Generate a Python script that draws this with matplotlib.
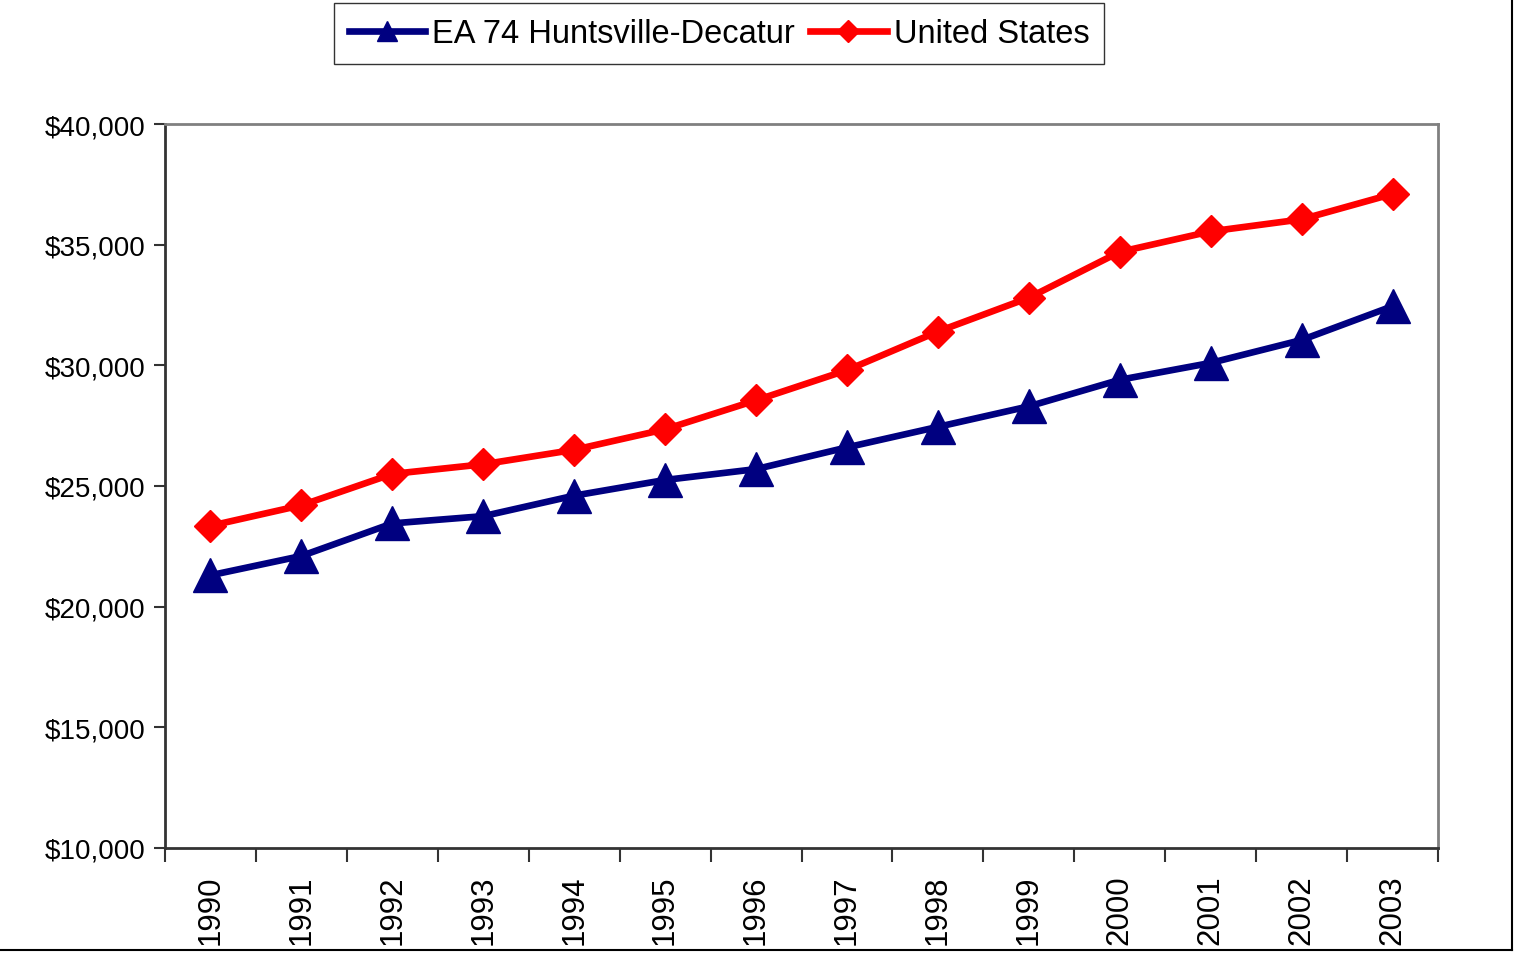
import matplotlib
matplotlib.use("Agg")
import matplotlib.pyplot as plt
from matplotlib.lines import Line2D
from matplotlib.ticker import FuncFormatter, FixedLocator

plt.rcParams['font.family'] = ['Liberation Sans', 'DejaVu Sans']

years = ["1990", "1991", "1992", "1993", "1994", "1995", "1996",
         "1997", "1998", "1999", "2000", "2001", "2002", "2003"]
huntsville = [21300, 22100, 23450, 23750, 24600, 25250, 25700,
              26600, 27450, 28300, 29400, 30100, 31050, 32450]
united_states = [23350, 24200, 25500, 25900, 26500, 27350, 28550,
                 29800, 31400, 32800, 34700, 35550, 36050, 37100]
y_ticks = [10000, 15000, 20000, 25000, 30000, 35000, 40000]

fig = plt.figure(figsize=(15.14, 9.54), dpi=100)
ax = fig.add_axes([165/1514, 1-849/954, (1438-165)/1514, (849-125)/954])

x = list(range(len(years)))
ax.plot(x, huntsville, color='#000080', lw=4.8, marker='^', ms=24,
        label='EA 74 Huntsville-Decatur', solid_joinstyle='round')
ax.plot(x, united_states, color='#FF0000', lw=4.8, marker='D', ms=16.5,
        label='United States', solid_joinstyle='round')

ax.set_xlim(-0.5, len(years) - 0.5)
ax.set_ylim(y_ticks[0], y_ticks[-1])
ax.set_yticks(y_ticks)
ax.yaxis.set_major_formatter(FuncFormatter(lambda v, p: "${:,.0f}".format(v)))
ax.tick_params(axis='y', direction='out', length=8, width=1.5, color='#333333',
               labelsize=20, pad=6)

ax.xaxis.set_major_locator(FixedLocator([i - 0.5 for i in range(len(years) + 1)]))
ax.xaxis.set_major_formatter(FuncFormatter(lambda v, p: ""))
ax.xaxis.set_minor_locator(FixedLocator(x))
ax.set_xticklabels(years, minor=True, rotation=90)
ax.tick_params(axis='x', which='major', direction='out', length=10, width=1.5,
               color='#333333')
ax.tick_params(axis='x', which='minor', length=0, labelsize=22.5, pad=19)
for lab in ax.get_xticklabels(minor=True):
    lab.set_verticalalignment('top')

ax.spines['left'].set_color('#333333')
ax.spines['bottom'].set_color('#333333')
ax.spines['top'].set_color('#808080')
ax.spines['right'].set_color('#808080')
for s in ax.spines.values():
    s.set_linewidth(2)

leg = fig.legend(loc='center', bbox_to_anchor=(719/1514, 1-34.5/954), ncol=2,
                 fontsize=23.5, frameon=True, fancybox=False, edgecolor='black',
                 handlelength=2.35, handletextpad=0.22, columnspacing=0.45,
                 borderpad=0.45, borderaxespad=0)
leg.get_frame().set_linewidth(1.0)
for h in leg.legend_handles:
    if h.get_marker() == '^':
        h.set_markersize(15)
    else:
        h.set_markersize(11)

fig.add_artist(Line2D([0, 1512/1514], [1-951/954, 1-951/954], color='black', lw=1.5,
                      transform=fig.transFigure))
fig.add_artist(Line2D([1512/1514, 1512/1514], [1-951/954, 1], color='black', lw=1.5,
                      transform=fig.transFigure))

fig.savefig("out.png", dpi=100, facecolor='white')
